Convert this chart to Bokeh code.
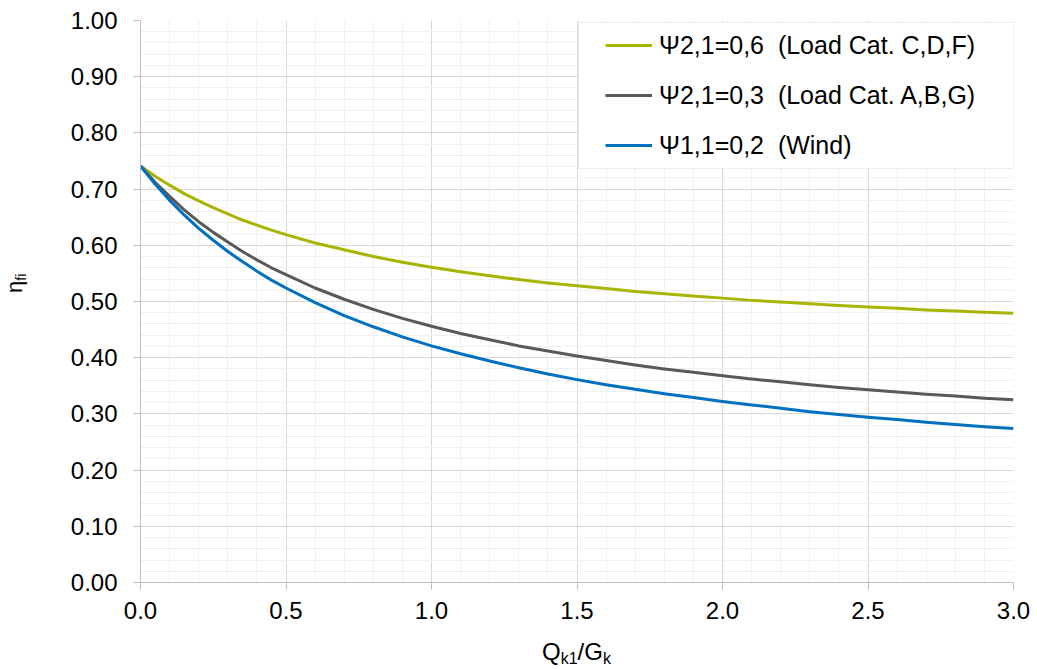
from bokeh.plotting import figure
from bokeh.layouts import row, column
from bokeh.models import (Range1d, SingleIntervalTicker, Legend, LegendItem, Div,
                          BoxAnnotation, NumeralTickFormatter)
from bokeh.embed import file_html
from bokeh.resources import INLINE

# ---- data ----
x_ratio = [0.0, 0.05, 0.1, 0.15, 0.2, 0.25, 0.3, 0.35, 0.4, 0.45, 0.5, 0.6, 0.7, 0.8, 0.9, 1.0,
           1.1, 1.2, 1.3, 1.4, 1.5, 1.6, 1.7, 1.8, 1.9, 2.0,
           2.1, 2.2, 2.3, 2.4, 2.5, 2.6, 2.7, 2.8, 2.9, 3.0]
eta_psi21_06 = [0.741, 0.723, 0.707, 0.692, 0.679, 0.667, 0.656, 0.645, 0.636, 0.627, 0.619,
                0.604, 0.592, 0.580, 0.570, 0.561,
                0.553, 0.546, 0.539, 0.533, 0.528, 0.523, 0.518, 0.514, 0.510, 0.506,
                0.502, 0.499, 0.496, 0.493, 0.490, 0.488, 0.485, 0.483, 0.481, 0.479]
eta_psi21_03 = [0.741, 0.712, 0.687, 0.663, 0.642, 0.623, 0.606, 0.589, 0.574, 0.560, 0.548,
                0.524, 0.504, 0.486, 0.470, 0.456,
                0.443, 0.432, 0.421, 0.412, 0.403, 0.395, 0.387, 0.380, 0.374, 0.368,
                0.362, 0.357, 0.352, 0.347, 0.343, 0.339, 0.335, 0.332, 0.328, 0.325]
eta_psi11_02 = [0.741, 0.709, 0.680, 0.654, 0.630, 0.609, 0.589, 0.571, 0.554, 0.538, 0.524,
                0.498, 0.475, 0.455, 0.437, 0.421,
                0.407, 0.394, 0.382, 0.371, 0.361, 0.352, 0.344, 0.336, 0.329, 0.322,
                0.316, 0.310, 0.304, 0.299, 0.294, 0.290, 0.285, 0.281, 0.277, 0.274]
series_labels = ["\u03a82,1=0,6  (Load Cat. C,D,F)",
                 "\u03a82,1=0,3  (Load Cat. A,B,G)",
                 "\u03a81,1=0,2  (Wind)"]
series_colors = ["#A9B400", "#595959", "#0070C0"]
y_title = ("\u03b7", "fi")
x_title = ("Q", "k1", "/G", "k")

FONT = "Liberation Sans"

# ---------------- main chart ----------------
p = figure(frame_width=873, frame_height=562,
           x_range=Range1d(0, 3), y_range=Range1d(0, 1),
           output_backend="svg", toolbar_location=None,
           min_border_left=100, min_border_right=24,
           min_border_top=20, min_border_bottom=52)
p.outline_line_color = None
p.background_fill_color = "white"
p.border_fill_color = "white"

p.xaxis.ticker = SingleIntervalTicker(interval=0.5, num_minor_ticks=5)
p.yaxis.ticker = SingleIntervalTicker(interval=0.1, num_minor_ticks=5)
p.xaxis.formatter = NumeralTickFormatter(format="0.0")
p.yaxis.formatter = NumeralTickFormatter(format="0.00")

for ax in (p.xaxis, p.yaxis):
    ax.axis_line_color = "#BFBFBF"
    ax.major_tick_line_color = "#BFBFBF"
    ax.major_tick_in = 0
    ax.major_tick_out = 7
    ax.minor_tick_in = 0
    ax.minor_tick_out = 0
    ax.major_label_text_font = FONT
    ax.major_label_text_font_size = "24px"
    ax.major_label_text_color = "black"
p.xaxis.major_label_standoff = 12
p.yaxis.major_label_standoff = 16

for g in (p.xgrid, p.ygrid):
    g.grid_line_color = "#D9D9D9"
    g.minor_grid_line_color = "#F0F0F0"

# legend frame box
p.add_layout(BoxAnnotation(left=1.5052, right=3.0, bottom=0.7367, top=0.9964,
                           fill_color="white", fill_alpha=1.0,
                           line_color="#BFBFBF", line_width=1))

renderers = []
for ys, col in zip([eta_psi21_06, eta_psi21_03, eta_psi11_02], series_colors):
    r = p.line(x_ratio, ys, line_color=col, line_width=3, line_join="round")
    renderers.append(r)

legend = Legend(items=[LegendItem(label=lab, renderers=[r]) for lab, r in zip(series_labels, renderers)],
                location=(455, 412), padding=10, spacing=20,
                glyph_width=47, glyph_height=30, label_height=30, label_standoff=7,
                label_text_font=FONT, label_text_font_size="25px",
                label_text_color="black",
                border_line_alpha=0, background_fill_alpha=0, margin=0)
p.add_layout(legend)

# ---------------- axis titles (HTML text with subscripts) ----------------
base = f"font-family:'{FONT}';color:black;line-height:1;white-space:nowrap;"

y_html = (
    f'<div style="position:relative;width:40px;height:669px;margin:0;padding:0;">'
    f'<span style="{base}position:absolute;left:0;top:0;font-size:22px;'
    f'transform-origin:0 0;transform:translate(4px,293px) rotate(-90deg);">'
    f'{y_title[0]}<span style="font-size:14px;vertical-align:-4px;">{y_title[1]}</span></span></div>'
)
x_html = (
    f'<div style="position:relative;width:997px;height:35px;margin:0;padding:0;">'
    f'<span style="{base}position:absolute;left:502px;top:6px;font-size:24px;">'
    f'{x_title[0]}<span style="font-size:16px;vertical-align:-4px;">{x_title[1]}</span>'
    f'{x_title[2]}<span style="font-size:16px;vertical-align:-4px;">{x_title[3]}</span></span></div>'
)

left_div = Div(text=y_html, width=40, height=669, margin=0)
bottom_div = Div(text=x_html, width=997, height=35, margin=0)

layout = row(left_div, column(p, bottom_div, spacing=0), spacing=0)

open("out.html", "w").write(file_html(layout, INLINE))
